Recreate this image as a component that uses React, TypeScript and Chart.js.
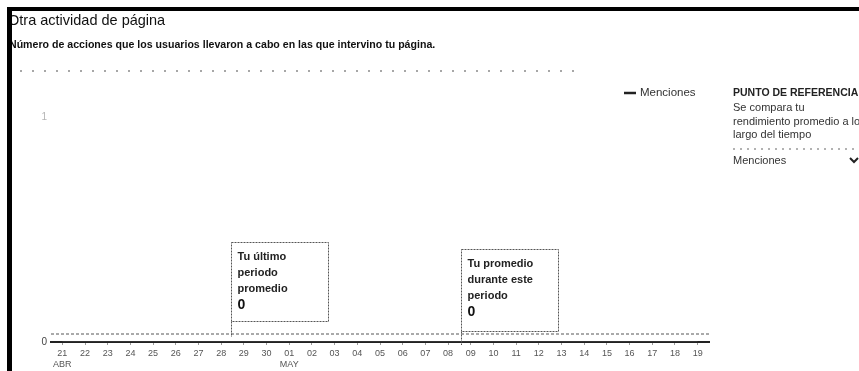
import React, { useEffect, useRef } from 'react';
import { Chart, registerables } from 'chart.js';

Chart.register(...registerables);

// Days shown on the x axis (21 Apr – 19 May)
const days = [
  '21', '22', '23', '24', '25', '26', '27', '28', '29', '30',
  '01', '02', '03', '04', '05', '06', '07', '08', '09', '10',
  '11', '12', '13', '14', '15', '16', '17', '18', '19',
];
// Month captions and the day index where each month starts
const months = ['ABR', 'MAY'];
const monthStarts = [0, 10];

// Daily mentions of the page
const menciones = [
  0, 0, 0, 0, 0, 0, 0, 0, 0, 0,
  0, 0, 0, 0, 0, 0, 0, 0, 0, 0,
  0, 0, 0, 0, 0, 0, 0, 0, 0,
];

// Averages shown in the two callouts
const lastPeriodAverage = 0;
const currentPeriodAverage = 0;

// y axis range
const yMin = 0;
const yMax = 1;

const titleText = 'Otra actividad de página';
const subtitleText =
  'Número de acciones que los usuarios llevaron a cabo en las que intervino tu página.';
const seriesLabel = 'Menciones';
const panelHeading = 'PUNTO DE REFERENCIA';
const panelLines = ['Se compara tu', 'rendimiento promedio a lo', 'largo del tiempo'];
const callouts = [
  { lines: ['Tu último', 'periodo', 'promedio'], value: lastPeriodAverage },
  { lines: ['Tu promedio', 'durante este', 'periodo'], value: currentPeriodAverage },
];

const FONT = '"Liberation Sans", Arial, Helvetica, sans-serif';

// Static page furniture: frame bars, header texts, right-hand panel, callouts
const pagePlugin = {
  id: 'pagePlugin',
  beforeDraw(chart: any) {
    const { ctx, width, height } = chart;
    ctx.save();
    ctx.fillStyle = '#ffffff';
    ctx.fillRect(0, 0, width, height);

    ctx.fillStyle = '#111';
    ctx.textBaseline = 'alphabetic';
    ctx.textAlign = 'left';
    ctx.font = `14.5px ${FONT}`;
    ctx.fillText(titleText, 8, 25);
    ctx.font = `bold 10.6px ${FONT}`;
    ctx.fillText(subtitleText, 9, 48);

    // frame bars
    ctx.fillStyle = '#000';
    ctx.fillRect(7, 7, width - 7, 4);
    ctx.fillRect(7, 7, 5, height - 7);

    // faint dotted row under the header
    ctx.strokeStyle = '#8a8a8a';
    ctx.lineWidth = 1.5;
    ctx.setLineDash([2, 10]);
    ctx.beginPath();
    ctx.moveTo(20, 71);
    ctx.lineTo(580, 71);
    ctx.stroke();
    ctx.restore();
  },
  afterDraw(chart: any) {
    const { ctx } = chart;
    const x = chart.scales.x;
    const y = chart.scales.y;
    const area = chart.chartArea;
    ctx.save();

    // legend
    ctx.strokeStyle = '#222';
    ctx.lineWidth = 2.5;
    ctx.beginPath();
    ctx.moveTo(624, 93);
    ctx.lineTo(636, 93);
    ctx.stroke();
    ctx.fillStyle = '#333';
    ctx.font = `11.5px ${FONT}`;
    ctx.textBaseline = 'middle';
    ctx.textAlign = 'left';
    ctx.fillText(seriesLabel, 640, 93);

    // benchmark panel
    ctx.fillStyle = '#222';
    ctx.font = `bold 10.5px ${FONT}`;
    ctx.fillText(panelHeading, 733, 93);
    ctx.fillStyle = '#333';
    ctx.font = `11px ${FONT}`;
    panelLines.forEach((t, i) => ctx.fillText(t, 733, 108 + i * 13.5));
    ctx.strokeStyle = '#999';
    ctx.lineWidth = 1.5;
    ctx.setLineDash([2, 5]);
    ctx.beginPath();
    ctx.moveTo(733, 149);
    ctx.lineTo(859, 149);
    ctx.stroke();
    ctx.setLineDash([]);
    ctx.font = `11px ${FONT}`;
    ctx.fillText(seriesLabel, 733, 161);
    ctx.strokeStyle = '#222';
    ctx.lineWidth = 2;
    ctx.beginPath();
    ctx.moveTo(850, 158);
    ctx.lineTo(854, 162);
    ctx.lineTo(858, 158);
    ctx.stroke();

    // average reference line, lifted a little above the zero axis
    const avgY = y.getPixelForValue(currentPeriodAverage) - 8;
    ctx.strokeStyle = '#555';
    ctx.lineWidth = 1;
    ctx.setLineDash([3, 2]);
    ctx.beginPath();
    ctx.moveTo(area.left, avgY);
    ctx.lineTo(area.right, avgY);
    ctx.stroke();

    // callouts
    const zeroY = y.getPixelForValue(0);
    const geo = [
      { at: 7.45, top: 100, h: 79, stemEnd: -5 },
      { at: 17.57, top: 93, h: 82, stemEnd: 3 },
    ];
    callouts.forEach((c, i) => {
      const g = geo[i];
      const left = Math.round(x.getPixelForValue(g.at)) + 0.5;
      const top = zeroY - g.top + 0.5;
      const w = 97;
      ctx.strokeStyle = '#555';
      ctx.lineWidth = 1;
      ctx.setLineDash([2, 1]);
      ctx.strokeRect(left, top, w, g.h);
      ctx.beginPath();
      ctx.moveTo(left, top + g.h);
      ctx.lineTo(left, zeroY + g.stemEnd);
      ctx.stroke();
      ctx.setLineDash([]);
      ctx.fillStyle = '#222';
      ctx.font = `bold 11px ${FONT}`;
      c.lines.forEach((t, k) => ctx.fillText(t, left + 6, top + 14 + k * 16));
      ctx.fillStyle = '#111';
      ctx.font = `bold 14px ${FONT}`;
      ctx.fillText(String(c.value), left + 6, top + 63);
    });
    ctx.restore();
  },
};

export default function App() {
  const ref = useRef<HTMLCanvasElement | null>(null);

  useEffect(() => {
    document.body.style.margin = '0';
    const canvas = ref.current;
    if (!canvas) return;
    const chart = new Chart(canvas, {
      type: 'line',
      data: {
        labels: days,
        datasets: [
          {
            label: seriesLabel,
            data: menciones,
            borderColor: '#333',
            borderWidth: 2,
            pointRadius: 0,
            tension: 0,
          },
        ],
      },
      options: {
        responsive: false,
        animation: false,
        devicePixelRatio: 1,
        layout: { padding: { top: 117, right: 150, left: 0, bottom: 0 } },
        plugins: {
          legend: { display: false },
          title: { display: false },
          tooltip: { enabled: false },
        },
        scales: {
          x: {
            type: 'category',
            offset: true,
            grid: {
              display: true,
              drawOnChartArea: false,
              drawTicks: true,
              tickLength: 3,
              offset: false,
              color: '#9a9a9a',
            },
            border: { display: true, color: '#222', width: 2 },
            ticks: {
              autoSkip: false,
              maxRotation: 0,
              padding: 3,
              color: '#555',
              font: { family: FONT, size: 9 },
              callback: (_v: any, i: number) => {
                const m = monthStarts.indexOf(i);
                return m >= 0 ? [days[i], months[m]] : days[i];
              },
            },
            afterFit: (s: any) => {
              s.height = 29;
            },
          },
          y: {
            min: yMin,
            max: yMax,
            grid: { display: false, drawTicks: false },
            border: { display: false },
            ticks: {
              stepSize: 1,
              padding: 4,
              color: (c: any) => (c.tick && c.tick.value === yMax ? '#b5b5b5' : '#444'),
              font: { family: FONT, size: 10 },
            },
            afterFit: (s: any) => {
              s.width = 51;
            },
          },
        },
      },
      plugins: [pagePlugin],
    } as any);
    return () => chart.destroy();
  }, []);

  return (
    <canvas
      ref={ref}
      width={859}
      height={371}
      style={{ display: 'block', width: 859, height: 371 }}
    />
  );
}
